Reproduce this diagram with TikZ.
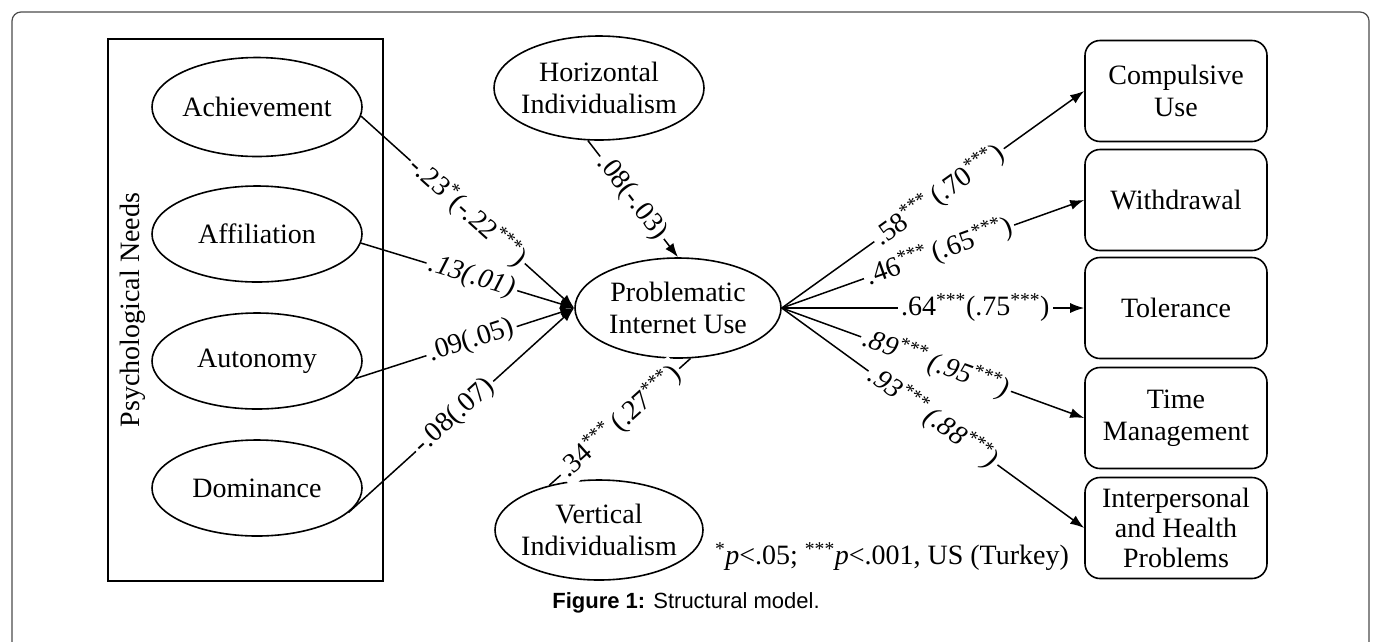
\documentclass[tikz,border=0pt]{standalone}
\usepackage{fontspec}
\setmainfont{Liberation Serif}
\newfontfamily\capfont{Liberation Sans}
\usetikzlibrary{shapes.geometric,arrows.meta}
\begin{document}
\begin{tikzpicture}[x=1pt,y=-1pt,
  every node/.style={font=\fontsize{28}{32}\selectfont},
  lat/.style={ellipse,draw,line width=1.6pt,inner sep=-15pt,align=center},
  obs/.style={rectangle,rounded corners=15pt,draw,line width=1.6pt,minimum width=182pt,minimum height=101pt,align=center,inner sep=0pt},
  pnbox/.style={rectangle,draw,line width=1.6pt,inner sep=0pt},
  conn/.style={line width=1.5pt},
  arr/.style={conn,-{Latex[length=14pt,width=10pt]}},
  lab/.style={fill=white,sloped,inner sep=3pt,pos=#1},
]
\useasboundingbox (0,0) rectangle (1373,641);
% outer frame
\draw[line width=1.2pt,draw=black!70,rounded corners=9pt] (12,660) -- (12,12) -- (1369,12) -- (1369,660);

% psychological needs box
\node[pnbox,minimum width=275pt,minimum height=542pt] (pn) at (245.5,310) {};
\node[rotate=90] (pnt) at (133,310) {Psychological Needs};

% latent variables
\node[lat,minimum width=210pt,minimum height=99pt] (ach) at (257,107) {Achievement};
\node[lat,minimum width=210pt,minimum height=96pt] (aff) at (257,234) {Affiliation};
\node[lat,minimum width=210pt,minimum height=96pt] (aut) at (257,361) {Autonomy};
\node[lat,minimum width=210pt,minimum height=96pt] (dom) at (257,488) {Dominance};
\node[lat,minimum width=210pt,minimum height=104pt] (hi) at (599,88) {Horizontal\\Individualism};
\node[lat,minimum width=206pt,minimum height=100pt] (piu) at (678,308) {Problematic\\Internet Use};
\node[lat,minimum width=208pt,minimum height=100pt] (vi) at (599,530) {Vertical\\Individualism};

% observed indicators
\node[obs] (cu) at (1176,91) {Compulsive\\Use};
\node[obs] (wd) at (1176,200) {Withdrawal};
\node[obs] (tol) at (1176,308) {Tolerance};
\node[obs] (tm) at (1176,418) {Time\\Management};
\node[obs,font=\fontsize{28}{30}\selectfont] (ih) at (1176,528) {Interpersonal\\and Health\\Problems};

% paths into PIU
\draw[arr] (ach.-5) -- node[lab=0.5]{-.23\textsuperscript{*}(-.22\textsuperscript{***})} (piu.west);
\draw[arr] (aff.-5) -- node[lab=0.52]{\itshape .13(.01)} (piu.west);
\draw[arr] (aut.-10) -- node[lab=0.53]{.09(.05)} (piu.west);
\draw[arr] (dom.-15) -- node[lab=0.47]{-.08(.07)} (piu.west);
\draw[arr] (hi.-102) -- node[lab=0.49]{.08(-.03)} (piu.north);
\draw[conn] (vi.138.6) -- node[lab=0.5]{.34\textsuperscript{***}\,(.27\textsuperscript{***})} (piu.-76);

% paths out of PIU
\draw[arr] (piu.east) -- node[lab=0.52]{.58\textsuperscript{***}\,(.70\textsuperscript{***})} (cu.west);
\draw[arr] (piu.east) -- node[lab=0.52]{.46\textsuperscript{***}\,(.65\textsuperscript{***})} (wd.west);
\draw[arr] (piu.east) -- node[lab=0.64]{.64\textsuperscript{***}(.75\textsuperscript{***})} (tol.west);
\draw[arr] (piu.east) -- node[lab=0.51]{\itshape .89\textsuperscript{***}\,(.95\textsuperscript{***})} (tm.west);
\draw[arr] (piu.east) -- node[lab=0.5]{\itshape .93\textsuperscript{***}\,(.88\textsuperscript{***})} (ih.west);

% footnote and caption
\node (fn) at (892,557) {\textsuperscript{*}\textit{p}<.05; \textsuperscript{***}\textit{p}<.001, US (Turkey)};
\node[font=\capfont\fontsize{22}{26}\selectfont] (cap) at (686,603) {\textbf{Figure 1:} Structural model.};
\end{tikzpicture}
\end{document}
